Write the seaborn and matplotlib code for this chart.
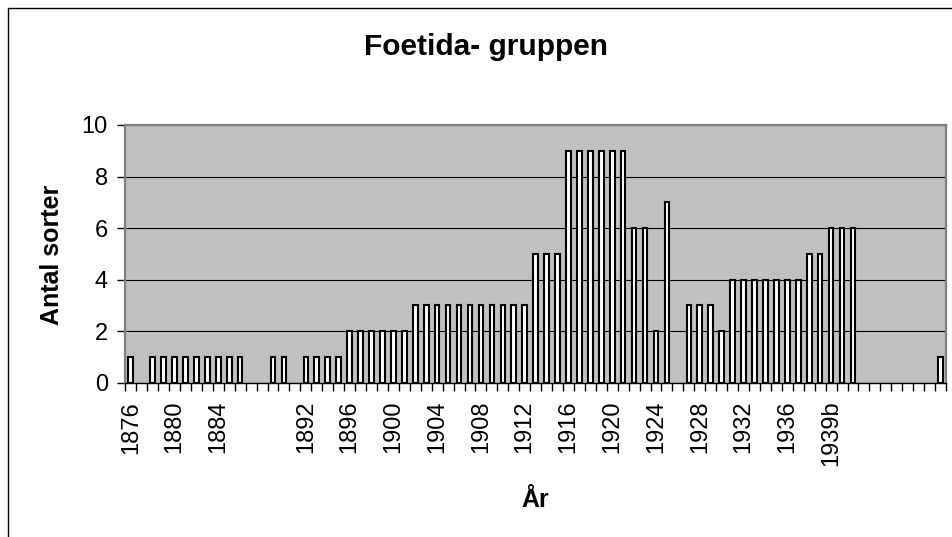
import numpy as np
import pandas as pd
import matplotlib
matplotlib.use("Agg")
import matplotlib.pyplot as plt
import seaborn as sns
from matplotlib.patches import Rectangle

# Data: one category per year, 1939b added,
# then ten unlabeled categories at the end
years = [str(y) for y in range(1876, 1940)] + ["1939b"]
extra = [""] * 10
categories = years + extra

antal = [
    1, 0, 1, 1, 1, 1, 1, 1, 1, 1, 1,        # 1876-1886
    0, 0, 1, 1, 0,                          # 1887-1891
    1, 1, 1, 1,                             # 1892-1895
    2, 2, 2, 2, 2, 2,                       # 1896-1901
    3, 3, 3, 3, 3, 3, 3, 3, 3, 3, 3,        # 1902-1912
    5, 5, 5,                                # 1913-1915
    9, 9, 9, 9, 9, 9,                       # 1916-1921
    6, 6, 2, 7, 0,                          # 1922-1926
    3, 3, 3, 2,                             # 1927-1930
    4, 4, 4, 4, 4, 4, 4,                    # 1931-1937
    5, 5, 6,                                # 1938, 1939, 1939b
    6, 6, 0, 0, 0, 0, 0, 0, 0, 1,           # unlabeled tail
]

# labels that Excel left blank on the axis
hidden_labels = ["1888"]

TITLE = "Foetida- gruppen"
XLABEL = "År"
YLABEL = "Antal sorter"


def main():
    sns.set_theme(style="white")
    plt.rcParams["font.family"] = ["Liberation Sans", "DejaVu Sans"]
    plt.rcParams["text.color"] = "black"
    plt.rcParams["xtick.color"] = "black"
    plt.rcParams["ytick.color"] = "black"

    df = pd.DataFrame({"pos": np.arange(len(categories)),
                       "label": categories,
                       "antal": antal})

    W, H = 952, 537
    fig = plt.figure(figsize=(W / 100, H / 100), dpi=100)
    ax = fig.add_axes([125.3 / W, 1 - 382.7 / H,
                       (946 - 125.3) / W, (382.7 - 125) / H])
    ax.set_facecolor("#C0C0C0")

    # outer chart border (runs past the right and bottom image edge)
    fig.patches.append(Rectangle((8 / W, -0.05), 1.2, 1 - 7.5 / H + 0.05,
                                 transform=fig.transFigure, fill=False,
                                 edgecolor="black", linewidth=1.0))

    sns.barplot(data=df, x="pos", y="antal", color="white", saturation=1,
                edgecolor="black", linewidth=1.5, width=0.42, ax=ax)
    # empty years get no outline at all
    for bar in ax.patches:
        if bar.get_height() == 0:
            bar.set_visible(False)

    n = len(categories)
    ax.set_xlim(-0.5, n - 0.5)
    ax.set_ylim(0, 10)
    ax.set_yticks(range(0, 11, 2))
    ax.yaxis.grid(True, color="black", linewidth=0.8)
    ax.set_axisbelow(True)

    major = list(range(0, n, 4))
    ax.set_xticks(major)
    ax.set_xticklabels(["" if categories[i] in hidden_labels else categories[i]
                        for i in major], rotation=90, va="top", ha="center")
    ax.set_xticks(np.arange(-0.5, n, 1), minor=True)

    ax.tick_params(axis="x", which="major", length=0, pad=13, labelsize=17,
                   labelcolor="black")
    ax.tick_params(axis="x", which="minor", length=5.5, width=1,
                   color="black", direction="out", bottom=True)
    ax.tick_params(axis="y", length=5.5, width=1, color="black",
                   direction="out", left=True, pad=7, labelsize=17,
                   labelcolor="black")

    for side in ["top", "right", "left"]:
        ax.spines[side].set_color("#808080")
        ax.spines[side].set_linewidth(1.6)
    ax.spines["bottom"].set_color("black")
    ax.spines["bottom"].set_linewidth(1.0)

    ax.set_xlabel("")
    ax.set_ylabel("")

    fig.text(486 / W, 1 - 55 / H, TITLE, ha="center", va="baseline",
             fontsize=21.5, fontweight="bold", color="black")
    fig.text(535 / W, 1 - 507 / H, XLABEL, ha="center", va="baseline",
             fontsize=18, fontweight="bold", color="black")
    fig.text(52 / W, 1 - 255 / H, YLABEL, ha="center", va="center",
             rotation=90, fontsize=18, fontweight="bold", color="black")

    fig.savefig("out.png", dpi=100)


if __name__ == "__main__":
    main()
